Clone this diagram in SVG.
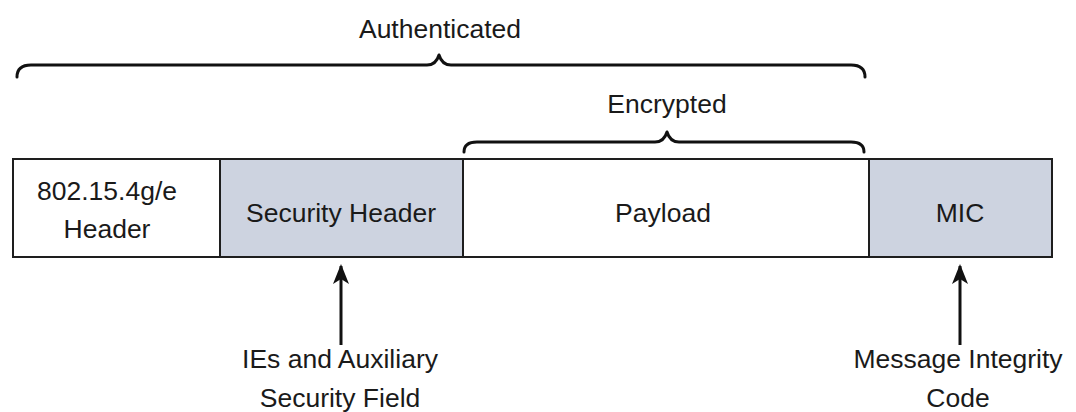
<svg xmlns="http://www.w3.org/2000/svg" width="1076" height="412" viewBox="0 0 1076 412">
<style>
.t{font-family:"Liberation Sans",Arial,sans-serif;font-size:26.5px;fill:#1a1a1a;text-anchor:middle}
.box{stroke:#1e1e1e;stroke-width:2}
.w{fill:#ffffff}
.s{fill:#cdd3e0}
.br{fill:none;stroke:#111;stroke-width:3;stroke-linejoin:round;stroke-linecap:round}
.ar{stroke:#111;stroke-width:3;fill:none}
</style>
<defs>
<marker id="ah" viewBox="0 0 20 16" refX="18" refY="8" markerWidth="20" markerHeight="16" markerUnits="userSpaceOnUse" orient="auto">
<path d="M0,0 L20,8 L0,16 L5,8 Z" fill="#111"/>
</marker>
</defs>
<rect width="1076" height="412" fill="#ffffff"/>
<g id="authenticated">
<path class="br" d="M17,77 Q17,65 31,65 L427,65 Q436,65 439,55 Q442,65 451,65 L851,65 Q865,65 865,77"/>
<text class="t" x="440" y="38">Authenticated</text>
</g>
<g id="encrypted">
<path class="br" d="M464,152 Q464,142 477,142 L655,142 Q664,142 667,132 Q670,142 679,142 L851,142 Q864,142 864,152"/>
<text class="t" x="667" y="113">Encrypted</text>
</g>
<g id="hdr">
<rect class="box w" x="13" y="159" width="207" height="98"/>
<text class="t" x="107" y="200">802.15.4g/e</text>
<text class="t" x="107" y="238">Header</text>
</g>
<g id="sec">
<rect class="box s" x="220" y="159" width="243" height="98"/>
<text class="t" x="341" y="222">Security Header</text>
</g>
<g id="payload">
<rect class="box w" x="463" y="159" width="406" height="98"/>
<text class="t" x="663" y="222">Payload</text>
</g>
<g id="mic">
<rect class="box s" x="869" y="159" width="183" height="98"/>
<text class="t" x="960" y="222">MIC</text>
</g>
<g id="connectors">
<line class="ar" x1="341" y1="345" x2="341" y2="266" marker-end="url(#ah)"/>
<line class="ar" x1="960" y1="345" x2="960" y2="266" marker-end="url(#ah)"/>
</g>
<g id="ies">
<text class="t" x="340" y="368">IEs and Auxiliary</text>
<text class="t" x="340" y="407">Security Field</text>
</g>
<g id="micl">
<text class="t" x="958" y="368">Message Integrity</text>
<text class="t" x="958" y="407">Code</text>
</g>
</svg>
